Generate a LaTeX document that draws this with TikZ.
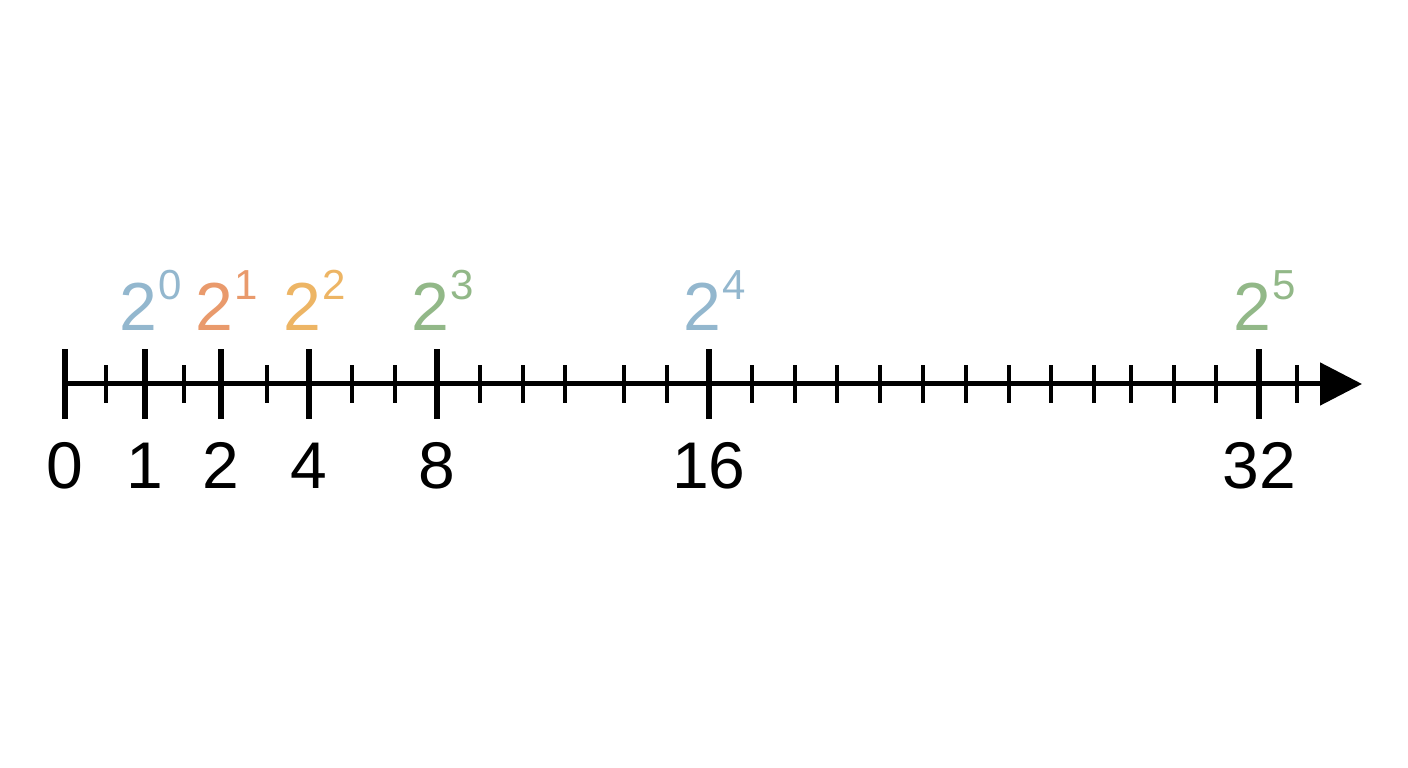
\documentclass[tikz,border=0pt]{standalone}
\usepackage{fontspec}
\setmainfont{Liberation Sans}
\usetikzlibrary{arrows.meta}
\definecolor{powblue}{HTML}{93B7CE}
\definecolor{powred}{HTML}{E99A6C}
\definecolor{powyellow}{HTML}{EDB565}
\definecolor{powgreen}{HTML}{92B888}
\begin{document}
\begin{tikzpicture}[x=1pt,y=1pt,line cap=butt,>={Triangle[length=42pt,width=42pt]},
    numlabel/.style={anchor=base,inner sep=0pt,font=\fontsize{66}{66}\selectfont},
    powlabel/.style={anchor=base,inner sep=0pt,font=\fontsize{68}{68}\selectfont}]
				\def \ya{384};
				\def \majh{35};
				\def \minh{19};
				\useasboundingbox (0,0) rectangle (1408,768);
				\coordinate (o) at (65,\ya);
				\coordinate (tip) at (1362,\ya);
				\draw[line width=5pt,->] (o) -- (tip);
				% small ticks
				\foreach \x in {106,184,267,352,395,480,523,565,624,667,752,795,837,880,923,966,1009,1051,1094,1131,1174,1216,1297}
					\draw[line width=3.5pt] (\x,\ya-\minh) -- (\x,\ya+\minh);
				% big ticks with numbers
				\foreach \x/\n in {65/0,145/1,221/2,309/4,437/8,709/16,1259/32}{
					\draw[line width=5.8pt] (\x,\ya-\majh) -- (\x,\ya+\majh);
					\node[numlabel] (n\n) at (\x,279) {\n};
				}
				% powers of two
				\foreach \x/\e/\c in {145/0/powblue,221/1/powred,309/2/powyellow,437/3/powgreen,709/4/powblue,1259/5/powgreen}
					\node[powlabel,text=\c] (p\e) at (\x+6,437) {2\kern1pt\raisebox{31pt}{\fontsize{42}{42}\selectfont\e}};
			\end{tikzpicture}
\end{document}
